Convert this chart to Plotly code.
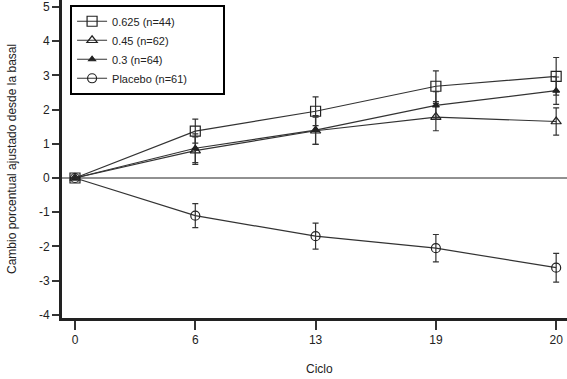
import plotly.graph_objects as go

ciclos = ["0", "6", "13", "19", "20"]
s0625 = [0, 1.37, 1.95, 2.68, 2.97]
e0625 = [0, 0.35, 0.42, 0.45, 0.55]
s045 = [0, 0.8, 1.38, 1.78, 1.65]
e045 = [0, 0.4, 0.4, 0.4, 0.4]
s03 = [0, 0.87, 1.4, 2.12, 2.55]
e03 = [0, 0.42, 0.42, 0.4, 0.4]
placebo = [0, -1.1, -1.7, -2.05, -2.62]
eplac = [0, 0.35, 0.38, 0.4, 0.42]
nombres = ["0.625 (n=44)", "0.45 (n=62)", "0.3 (n=64)", "Placebo (n=61)"]
ytick_vals = [-4, -3, -2, -1, 0, 1, 2, 3, 4, 5]
ytick_text = ["-4", "-3", "-2", "-1", "0", "1", "2", "3", "4", "5"]

series = [
    (nombres[0], s0625, e0625, "square-open", 10),
    (nombres[1], s045, e045, "triangle-up-open", 9),
    (nombres[2], s03, e03, "triangle-up", 6),
    (nombres[3] + "\u00a0" * 10, placebo, eplac, "circle-open", 9),
]

fig = go.Figure()
for name, ys, es, sym, sz in series:
    fig.add_trace(go.Scatter(
        x=ciclos, y=ys, name=name, mode="lines+markers", cliponaxis=False,
        line=dict(color="#333333", width=1.2),
        marker=dict(symbol=sym, size=sz, color="#222222", line=dict(color="#222222", width=1.2)),
        error_y=dict(type="data", array=es, visible=True, color="#333333", thickness=1.2, width=3),
    ))

fig.add_hline(y=0, line=dict(color="#222222", width=1))

fig.add_annotation(text="Ciclo", xref="paper", yref="paper", x=0.51, y=-0.16,
                   xanchor="center", yanchor="middle", showarrow=False, font=dict(size=12))
fig.add_annotation(text="Cambio porcentual ajustado desde la basal", xref="paper", yref="paper",
                   x=-0.099, y=0.5, textangle=-90, xanchor="center", yanchor="middle",
                   showarrow=False, font=dict(size=12))

fig.update_layout(
    width=567, height=379,
    margin=dict(l=62, r=0, t=0, b=61, autoexpand=False),
    paper_bgcolor="white", plot_bgcolor="white",
    font=dict(family="Liberation Sans, Arial, sans-serif", size=12, color="#222222"),
    showlegend=True,
    legend=dict(x=0.016, y=0.985, xanchor="left", yanchor="top",
                bordercolor="black", borderwidth=2, bgcolor="white",
                font=dict(size=11), tracegroupgap=0, itemwidth=30),
    xaxis=dict(type="category", range=[-0.108, 4.09], showgrid=False, zeroline=False,
               showline=True, linecolor="#222222", linewidth=3, automargin=False,
               ticks="outside", ticklen=9, tickwidth=2, tickcolor="#333333",
               tickfont=dict(size=12), ticklabeloverflow="allow"),
    yaxis=dict(range=[-4.09, 5.2], showgrid=False, zeroline=False,
               showline=True, linecolor="#222222", linewidth=3, automargin=False,
               ticks="outside", ticklen=7, tickwidth=1.5, tickcolor="#333333",
               tickvals=ytick_vals, ticktext=ytick_text,
               tickfont=dict(size=12), ticklabeloverflow="allow"),
)

fig.write_html("out.html", config={"displayModeBar": False},
               post_script="document.body.style.margin='0';")
